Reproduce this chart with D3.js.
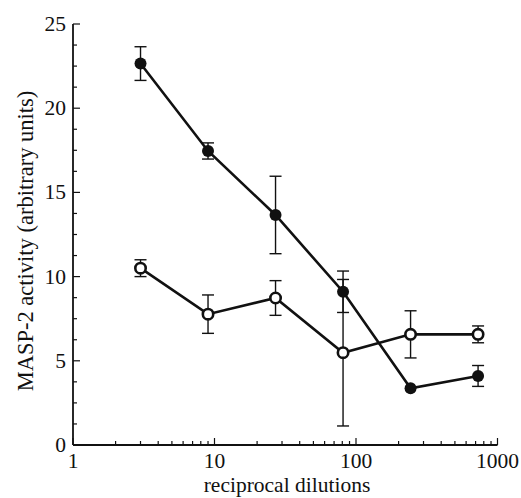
<!DOCTYPE html>
<html><head><meta charset="utf-8">
<script src="https://cdn.jsdelivr.net/npm/d3@7"></script>
<style>body{margin:0;background:#fff}svg{display:block}</style>
</head><body><svg id="c" width="521" height="498"></svg>
<script>
const dilutions = [3, 9, 27, 81, 243, 729];
const filledMean = [22.65, 17.46, 13.66, 9.1, 3.37, 4.1];
const filledErr  = [1.0, 0.48, 2.3, 1.23, 0.0, 0.62];
const openMean   = [10.5, 7.77, 8.73, 5.48, 6.57, 6.57];
const openErr    = [0.5, 1.14, 1.03, 4.35, 1.4, 0.5];
const xTicks = [1, 10, 100, 1000];
const yTicks = [0, 5, 10, 15, 20, 25];

const FONT = "Liberation Serif";
const svg = d3.select("#c");
const x = d3.scaleLog().domain([1, 1000]).range([73, 497.5]);
const y = d3.scaleLinear().domain([0, 25]).range([445, 24]);

function txt(sel, size) { return sel.attr("font-family", FONT).attr("fill", "#111").attr("font-size", size || 21); }

svg.append("line").attr("x1", 73).attr("x2", 73).attr("y1", y(25)).attr("y2", y(0)).attr("stroke", "#111").attr("stroke-width", 1.8);
svg.append("line").attr("x1", 73).attr("x2", x(1000)).attr("y1", y(0)).attr("y2", y(0)).attr("stroke", "#111").attr("stroke-width", 1.8);

const yMinor = d3.range(0, 25.01, 1.25);
svg.selectAll(".ym").data(yMinor).enter().append("line")
  .attr("x1", 73).attr("x2", d => 73 + (d % 5 === 0 ? 7 : 4))
  .attr("y1", d => y(d)).attr("y2", d => y(d)).attr("stroke", "#111").attr("stroke-width", 1.2);
txt(svg.selectAll(".yl").data(yTicks).enter().append("text")
  .attr("x", 66).attr("y", d => y(d) + 7).attr("text-anchor", "end").text(d => d), 21.5);

const xMinor = [];
for (let p = 1; p < 1000; p *= 10) for (let k = 1; k <= 10; k++) xMinor.push(p * k);
svg.selectAll(".xm").data([...new Set(xMinor)]).enter().append("line")
  .attr("x1", d => x(d)).attr("x2", d => x(d))
  .attr("y1", y(0)).attr("y2", d => y(0) - (xTicks.includes(d) ? 7 : 4)).attr("stroke", "#111").attr("stroke-width", 1.2);
txt(svg.selectAll(".xl").data(xTicks).enter().append("text")
  .attr("x", d => x(d)).attr("y", 467.5).attr("text-anchor", "middle").text(d => d), 21.5);

txt(svg.append("text").attr("x", 287).attr("y", 492).attr("text-anchor", "middle").text("reciprocal dilutions"), 21.5);
txt(svg.append("text").attr("transform", "translate(33,241) rotate(-90)").attr("text-anchor", "middle").text("MASP-2 activity (arbitrary units)"), 22.5);

function series(mean, err, filled) {
  const data = dilutions.map((d, i) => ({d, m: mean[i], e: err[i]}));
  const g = svg.append("g");
  g.append("path").datum(data)
    .attr("d", d3.line().x(p => x(p.d)).y(p => y(p.m)))
    .attr("fill", "none").attr("stroke", "#111").attr("stroke-width", 2.6);
  const eb = g.selectAll(".eb").data(data.filter(p => p.e > 0)).enter().append("g");
  eb.append("line").attr("x1", p => x(p.d)).attr("x2", p => x(p.d))
    .attr("y1", p => y(p.m + p.e)).attr("y2", p => y(p.m - p.e)).attr("stroke", "#111").attr("stroke-width", 1.4);
  [1, -1].forEach(s => eb.append("line")
    .attr("x1", p => x(p.d) - 6).attr("x2", p => x(p.d) + 6)
    .attr("y1", p => y(p.m + s * p.e)).attr("y2", p => y(p.m + s * p.e)).attr("stroke", "#111").attr("stroke-width", 1.4));
  g.selectAll("circle").data(data).enter().append("circle")
    .attr("cx", p => x(p.d)).attr("cy", p => y(p.m))
    .attr("r", filled ? 6 : 5.2)
    .attr("fill", filled ? "#111" : "#fff").attr("stroke", "#111").attr("stroke-width", filled ? 0 : 2.6);
}
series(openMean, openErr, false);
series(filledMean, filledErr, true);
</script></body></html>
